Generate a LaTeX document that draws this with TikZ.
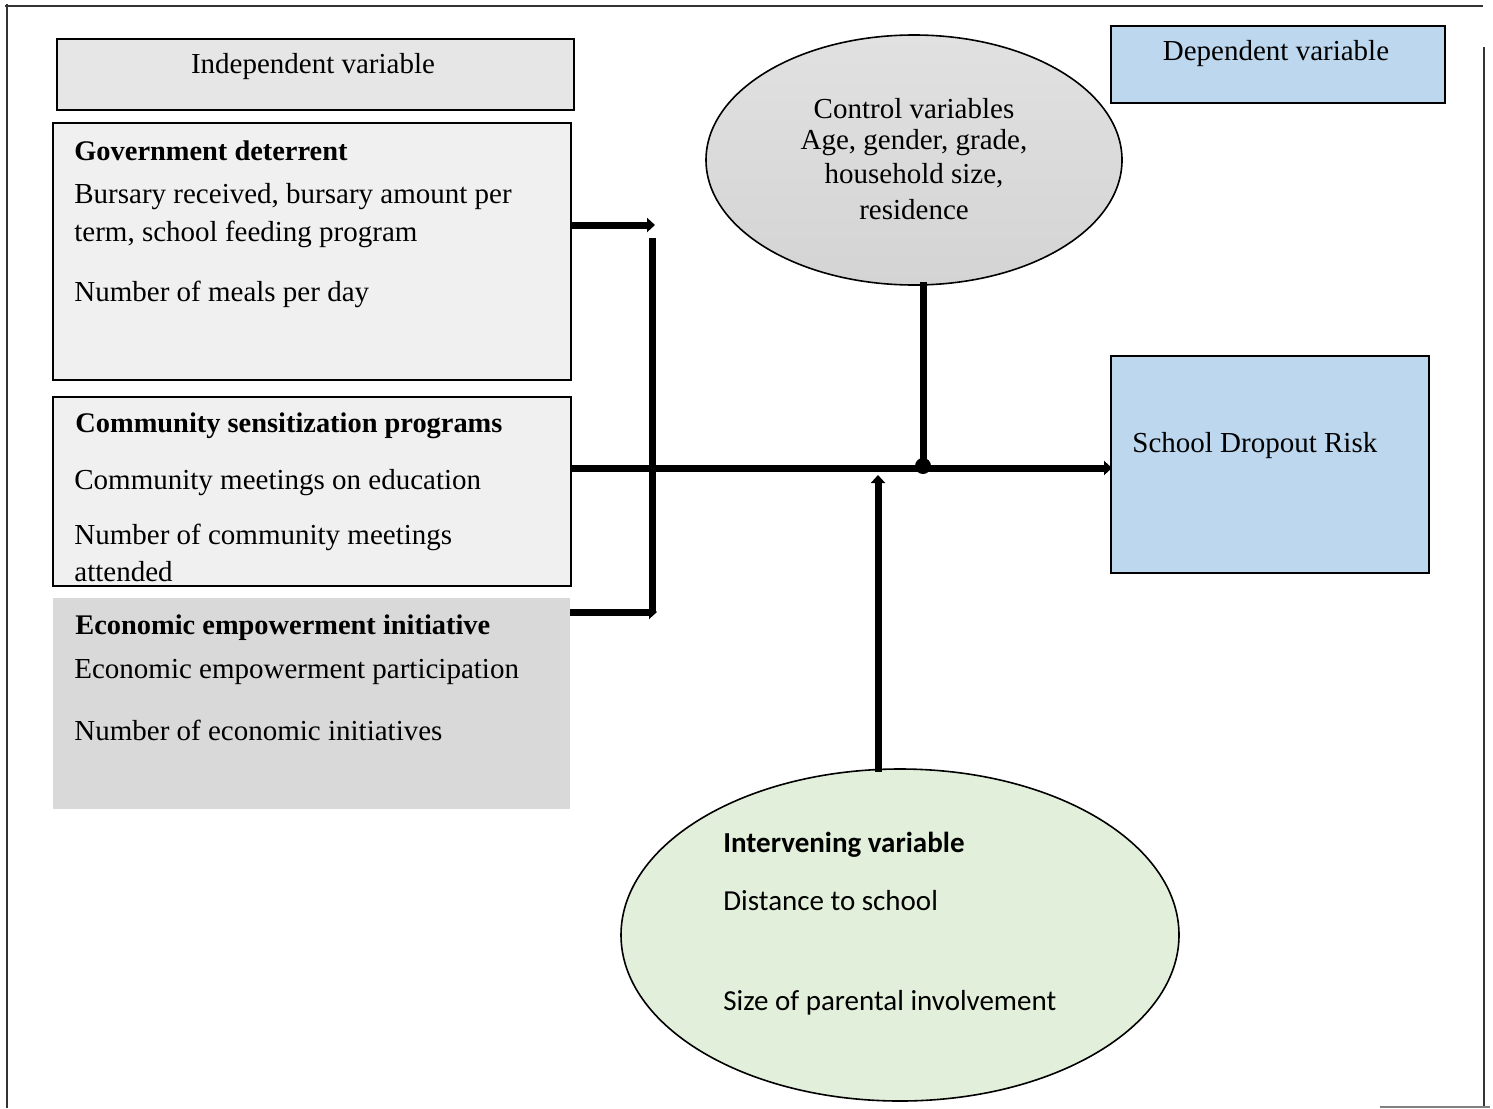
\documentclass[tikz,border=0pt]{standalone}
\usepackage{fontspec}
\setmainfont{Liberation Serif}
\newfontfamily\calib{Carlito}
\usetikzlibrary{arrows.meta,shapes.geometric}
\definecolor{boxgray}{HTML}{F0F0F0}
\definecolor{hdrgray}{HTML}{E6E6E6}
\definecolor{econgray}{HTML}{D9D9D9}
\definecolor{depblue}{HTML}{BDD7EE}
\definecolor{intgreen}{HTML}{E2EFDA}
\definecolor{ctrlgray}{HTML}{D4D4D4}
\tikzset{
  frame/.style={line width=0.8pt, draw=black!80},
  boxline/.style={line width=1.1pt, draw=black},
  txt/.style={anchor=west, inner sep=0pt, font=\fontsize{14.5}{17}\selectfont},
  btxt/.style={txt, font=\fontsize{14.2}{17}\selectfont\bfseries},
  ctxt/.style={anchor=center, inner sep=0pt, font=\fontsize{14.5}{17}\selectfont},
  itxt/.style={anchor=west, inner sep=0pt, font=\fontsize{14.5}{17}\selectfont\calib},
  ibtxt/.style={itxt, font=\fontsize{14.5}{17}\selectfont\calib\bfseries},
  conn/.style={line width=3.5pt, draw=black},
  arr/.style={conn, -{Triangle[length=4pt,width=7pt]}},
}
\begin{document}
\begin{tikzpicture}[x=0.5pt,y=-0.5pt]
\useasboundingbox (0,0) rectangle (1493,1108);
% outer frame
\draw[frame] (5,6) -- (1483,6);
\draw[frame] (7,4) -- (7,1108);
\draw[frame] (1484,47) -- (1484,1108);
\draw[line width=0.8pt, draw=black!50] (1380,1107) -- (1490,1107);

% boxes
\node[boxline, fill=hdrgray, rectangle, minimum width=258.5pt, minimum height=35.5pt, anchor=north west] (indep) at (56,38) {};
\node[ctxt] at (313,67) {Independent variable};

\node[boxline, fill=boxgray, rectangle, minimum width=259pt, minimum height=128.5pt, anchor=north west] (gov) at (52,122) {};
\node[boxline, fill=boxgray, rectangle, minimum width=259pt, minimum height=94.5pt, anchor=north west] (comm) at (52,396) {};
\node[fill=econgray, rectangle, minimum width=258.5pt, minimum height=105.5pt, anchor=north west, inner sep=0pt] (econ) at (53,598) {};

\node[btxt] at (74,151) {Government deterrent};
\node[txt] at (74,197) {Bursary received, bursary amount per};
\node[txt] at (74,234) {term, school feeding program};
\node[txt] at (74,294) {Number of meals per day};

\node[btxt] at (75,426) {Community sensitization programs};
\node[txt] at (74,483) {Community meetings on education};
\node[txt] at (74,537) {Number of community meetings};
\node[txt] at (74,572) {attended};

\node[btxt] at (75,628) {Economic empowerment initiative};
\node[txt] at (74,672) {Economic empowerment participation};
\node[txt] at (74,730) {Number of economic initiatives};

% control ellipse
\node[ellipse, draw=black, line width=0.8pt, top color=ctrlgray!70, bottom color=ctrlgray, minimum width=208pt, minimum height=125pt, inner sep=0pt] (ctrl) at (914,160) {};
\node[ctxt, align=center] at (914,109) {Control variables};
\node[ctxt] at (914,143) {Age, gender, grade,};
\node[ctxt] at (914,176) {household size,};
\node[ctxt] at (914,210) {residence};

% dependent
\node[boxline, fill=depblue, rectangle, minimum width=167pt, minimum height=38.5pt, anchor=north west] (dep) at (1110,25) {};
\node[ctxt] at (1276,54) {Dependent variable};
\node[boxline, fill=depblue, rectangle, minimum width=159pt, minimum height=108.5pt, anchor=north west] (risk) at (1110,355) {};
\node[txt] at (1132,446) {School Dropout Risk};

% intervening ellipse
\node[ellipse, draw=black, line width=0.8pt, fill=intgreen, minimum width=279pt, minimum height=166pt, inner sep=0pt] (interv) at (900,935) {};
\node[ibtxt] at (723,845) {Intervening variable};
\node[itxt] at (723,901) {Distance to school};
\node[itxt] at (723,1003) {Size of parental involvement};

% connectors
\coordinate (g1) at (570,225);
\coordinate (g2) at (655,225);
\coordinate (v1) at (652,238);
\coordinate (v2) at (652,612);
\coordinate (e1) at (570,612);
\coordinate (e2) at (657,612);
\coordinate (m1) at (570,468);
\coordinate (m2) at (1112,468);
\coordinate (c1) at (923,282);
\coordinate (c2) at (923,466);
\coordinate (i1) at (878,772);
\coordinate (i2) at (878,475);

\draw[arr] (g1) -- (g2);
\draw[conn] (v1) -- (v2);
\draw[arr] (e1) -- (e2);
\draw[arr] (m1) -- (m2);
\draw[conn] (c1) -- (c2);
\fill (c2) circle (4pt);
\draw[arr] (i1) -- (i2);
\end{tikzpicture}
\end{document}
